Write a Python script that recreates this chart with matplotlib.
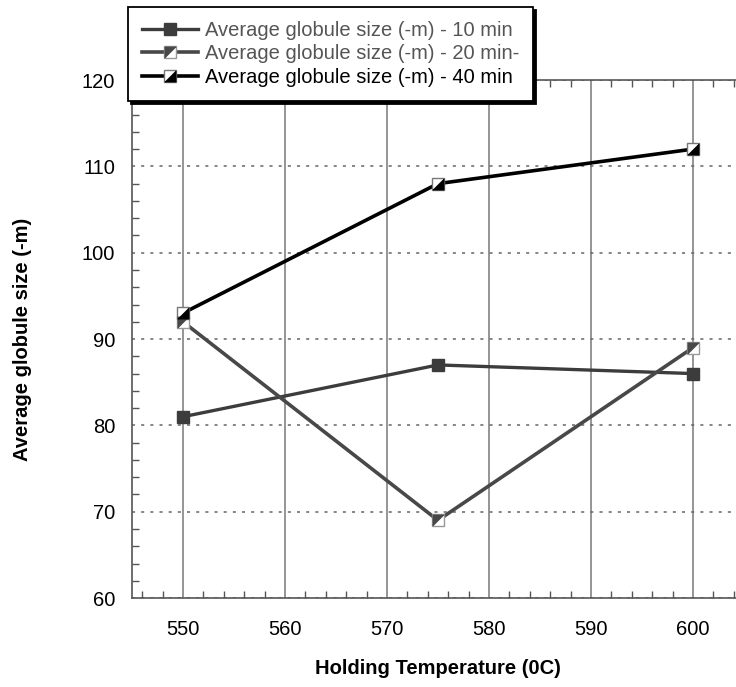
import matplotlib.pyplot as plt
import matplotlib.ticker as ticker
from matplotlib.path import Path

plt.rcParams['font.family'] = ['Liberation Sans', 'DejaVu Sans']

temps = [550, 575, 600]
size_10 = [81, 87, 86]
size_20 = [92, 69, 89]
size_40 = [93, 108, 112]
labels = ['Average globule size (-m) - 10 min',
          'Average globule size (-m) - 20 min-',
          'Average globule size (-m) - 40 min']

# half-filled square markers (diagonal split)
tri_lr = Path([(-1, -1), (1, -1), (1, 1), (-1, -1)])
tri_ul = Path([(-1, -1), (-1, 1), (1, 1), (-1, -1)])

fig = plt.figure(figsize=(7.36, 6.87), dpi=100)
ax = fig.add_axes([0.1793, 0.1295, 0.8315, 0.754])

ms = 8
l10, = ax.plot(temps, size_10, color='#3c3c3c', lw=2.4, marker='s', ms=ms,
               mfc='#3c3c3c', mec='#3c3c3c', zorder=3)
l20, = ax.plot(temps, size_20, color='#484848', lw=2.6, marker='s', ms=ms,
               mfc='white', mec='#999999', mew=1, zorder=3)
t20, = ax.plot(temps, size_20, ls='none', marker=tri_ul, ms=ms,
               mfc='#484848', mec='#484848', mew=0.5, zorder=4)
l40, = ax.plot(temps, size_40, color='black', lw=2.6, marker='s', ms=ms,
               mfc='white', mec='#777777', mew=1, zorder=3)
t40, = ax.plot(temps, size_40, ls='none', marker=tri_lr, ms=ms,
               mfc='black', mec='black', mew=0.5, zorder=4)

ax.set_xlim(545, 605)
ax.set_ylim(60, 120)
ax.xaxis.set_major_locator(ticker.MultipleLocator(10))
ax.xaxis.set_minor_locator(ticker.MultipleLocator(2))
ax.yaxis.set_major_locator(ticker.MultipleLocator(10))
ax.yaxis.set_minor_locator(ticker.MultipleLocator(2))
ax.tick_params(which='both', direction='in', top=True, right=True,
               colors='#555555', labelcolor='black', labelsize=14.5)
ax.tick_params(which='major', length=0)
ax.tick_params(axis='x', which='major', pad=16)
ax.tick_params(axis='y', which='major', pad=12)
ax.tick_params(which='minor', length=5, width=1)

ax.xaxis.grid(True, color='#8c8c8c', lw=1.3, ls='-')
ax.yaxis.grid(True, color='#666666', lw=1.1, ls=(0, (2, 4)))
ax.set_axisbelow(True)
for s in ax.spines.values():
    s.set_color('#555555')
    s.set_linewidth(1.2)

ax.set_xlabel('Holding Temperature (0C)', fontsize=14.5, fontweight='bold', labelpad=14)
ax.set_ylabel('Average globule size (-m)', fontsize=14.5, fontweight='bold', labelpad=36)

leg = fig.legend([l10, (l20, t20), (l40, t40)], labels,
                 loc='upper left', bbox_to_anchor=(0.174, 0.99),
                 bbox_transform=fig.transFigure, fontsize=14.5,
                 handlelength=2.75, handletextpad=0.35, labelspacing=0.22,
                 borderpad=0.7, borderaxespad=0, fancybox=False,
                 framealpha=1, edgecolor='black',
                 shadow={'color': 'black', 'alpha': 1})
leg.get_frame().set_linewidth(1.3)
for t, c in zip(leg.get_texts(), ['#555555', '#555555', 'black']):
    t.set_color(c)

plt.savefig('out.png', dpi=100)
